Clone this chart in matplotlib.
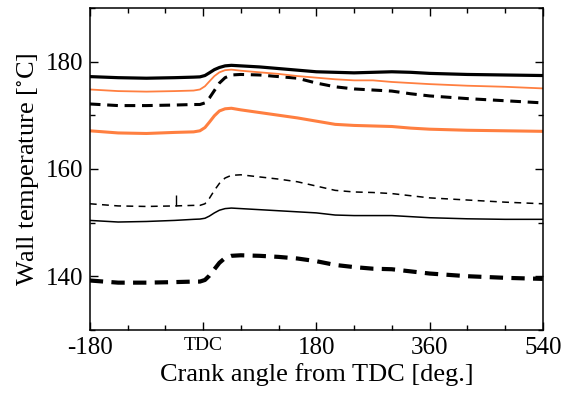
import matplotlib
matplotlib.use("Agg")
import matplotlib.pyplot as plt
from matplotlib.ticker import MultipleLocator

plt.rcParams['font.family'] = ['Liberation Serif', 'DejaVu Serif']
plt.rcParams['mathtext.fontset'] = 'stix'

# Crank angle grid (deg from TDC)
angle = [-180, -135, -90, -45, -15, -5, 3, 10, 18, 26, 35, 45, 60, 90, 120, 150, 180,
         210, 240, 270, 300, 330, 360, 420, 480, 540]

# Wall temperatures (degC)
top_solid = [177.2, 177.0, 176.9, 177.0, 177.1, 177.15, 177.4, 177.9, 178.5, 178.9, 179.2, 179.3, 179.2,
             179.0, 178.7, 178.4, 178.1, 178.0, 177.9, 178.0, 178.1, 178.0, 177.8, 177.6, 177.5, 177.4]
orange_thin = [174.8, 174.5, 174.4, 174.5, 174.6, 174.8, 175.4, 176.3, 177.3, 178.0, 178.4, 178.5, 178.3,
               178.0, 177.7, 177.3, 177.0, 176.7, 176.5, 176.5, 176.2, 176.0, 175.8, 175.5, 175.3, 175.0]
top_dashed = [172.1, 171.8, 171.8, 171.9, 172.0, 172.0, 172.3, 173.2, 174.6, 176.0, 177.0, 177.5, 177.6,
              177.5, 177.2, 176.9, 176.0, 175.3, 174.9, 174.7, 174.5, 174.0, 173.6, 173.1, 172.7, 172.3]
orange_thick = [167.1, 166.7, 166.6, 166.8, 166.9, 167.1, 167.7, 168.7, 169.9, 170.8, 171.2, 171.3, 171.0,
                170.5, 170.0, 169.5, 168.9, 168.3, 168.1, 168.0, 167.9, 167.6, 167.4, 167.2, 167.1, 167.0]
thin_dashed = [153.5, 153.1, 153.0, 153.1, 153.2, 153.2, 153.5, 154.5, 156.0, 157.3, 158.3, 158.8, 158.9,
               158.5, 158.1, 157.6, 156.8, 156.0, 155.7, 155.6, 155.4, 155.0, 154.6, 154.2, 153.8, 153.5]
thin_solid = [150.4, 150.1, 150.2, 150.4, 150.6, 150.65, 150.8, 151.2, 151.8, 152.3, 152.6, 152.7, 152.6,
              152.4, 152.2, 152.0, 151.8, 151.4, 151.3, 151.3, 151.3, 151.1, 150.9, 150.7, 150.6, 150.6]
bottom_dashed = [139.2, 138.8, 138.8, 138.9, 139.0, 139.0, 139.3, 140.1, 141.3, 142.5, 143.4, 143.8, 143.9,
                 143.8, 143.6, 143.3, 142.8, 142.1, 141.7, 141.4, 141.3, 140.9, 140.5, 140.0, 139.7, 139.5]

# small spike in the thin dashed trace
spike_angle = [-43]
spike_low = [153.0]
spike_high = [155.2]

xticks = [-180, 0, 180, 360, 540]
xticklabels = ['-180', 'TDC', '180', '360', '540']
yticks = [140, 160, 180]

fig = plt.figure(figsize=(5.72, 3.96), dpi=100)
ax = fig.add_axes([0.157, 0.167, 0.792, 0.813])

orange = '#FF7F40'
ax.plot(angle, bottom_dashed, color='black', lw=3.0, ls=(0, (3.2, 2.0)))
ax.plot(angle, thin_solid, color='black', lw=1.1)
ax.plot(angle, thin_dashed, color='black', lw=1.1, ls=(0, (4.5, 3.5)))
ax.vlines(spike_angle, spike_low, spike_high, color='black', lw=1.0)
ax.plot(angle, orange_thick, color=orange, lw=2.2)
ax.plot(angle, top_dashed, color='black', lw=2.2, ls=(0, (3.5, 2.2)))
ax.plot(angle, orange_thin, color=orange, lw=1.3)
ax.plot(angle, top_solid, color='black', lw=2.3)

ax.set_xlim(-180, 540)
ax.set_ylim(130, 190)
ax.set_xticks(xticks)
ax.set_xticklabels(xticklabels)
ax.set_yticks(yticks)
ax.xaxis.set_minor_locator(MultipleLocator(60))
ax.yaxis.set_minor_locator(MultipleLocator(10))
ax.tick_params(which='both', direction='in', top=True, right=True, width=1.0, labelsize=18)
ax.tick_params(which='major', length=6, pad=5)
ax.tick_params(which='minor', length=3.5)
for lbl in ax.get_xticklabels():
    if lbl.get_text() == 'TDC':
        lbl.set_fontsize(14)
for s in ax.spines.values():
    s.set_linewidth(1.1)

ax.set_xlabel('Crank angle from TDC [deg.]', fontsize=19, labelpad=3)
ax.set_ylabel('Wall temperature [$^{\\circ}$C]', fontsize=19, labelpad=3)

fig.savefig('out.png', dpi=100)
